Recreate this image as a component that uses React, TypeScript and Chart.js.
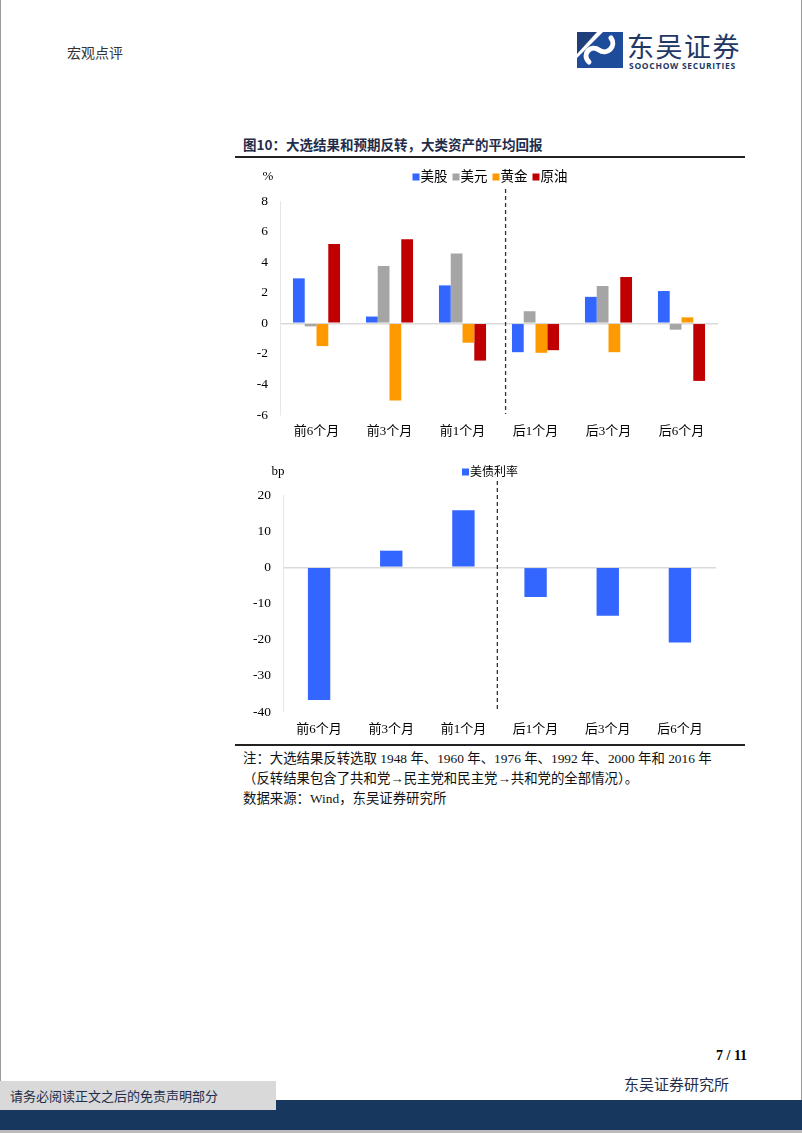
import React, { useEffect, useRef } from "react";
import { Chart, registerables } from "chart.js";

Chart.register(...registerables);

const categories = ["前6个月", "前3个月", "前1个月", "后1个月", "后3个月", "后6个月"];
const usStocks = [2.94, 0.44, 2.48, -1.89, 1.73, 2.11];
const usDollar = [-0.2, 3.75, 4.56, 0.79, 2.44, -0.42];
const gold = [-1.49, -5.05, -1.27, -1.93, -1.89, 0.39];
const crudeOil = [5.18, 5.5, -2.44, -1.76, 3.03, -3.77];
const treasuryYield = [-36.7, 4.6, 15.8, -8.2, -13.4, -20.8];
const assetSeriesNames = ["美股", "美元", "黄金", "原油"];
const yieldSeriesName = "美债利率";

const FONT = "'Liberation Serif', 'Noto Sans CJK SC', serif";
const BLUE = "#3366FF";
const GRAY = "#A5A5A5";
const ORANGE = "#FF9900";
const RED = "#C00000";

function makePlugin(unit: string, unitDx: number, lineOffsetFrac: number, lineExtend: number, legendY: number, legendFont: number) {
  return {
    id: "extras",
    afterDraw(chart: any) {
      const { ctx, chartArea, scales } = chart;
      const x = scales.x;
      const p2 = x.getPixelForValue(2);
      const p3 = x.getPixelForValue(3);
      const lx = (p2 + p3) / 2 + (p3 - p2) * lineOffsetFrac;
      ctx.save();
      ctx.strokeStyle = "#333333";
      ctx.lineWidth = 1.3;
      ctx.setLineDash([4, 3]);
      ctx.beginPath();
      ctx.moveTo(lx, chartArea.top - lineExtend);
      ctx.lineTo(lx, chartArea.bottom - 1);
      ctx.stroke();
      ctx.setLineDash([]);

      // legend
      ctx.font = legendFont + "px " + FONT;
      ctx.textBaseline = "middle";
      ctx.textAlign = "left";
      const box = 7;
      const gapBoxText = 1;
      const gapItems = 5;
      const items = chart.data.datasets.map((d: any) => ({
        label: d.label as string,
        color: d.backgroundColor as string,
        w: box + gapBoxText + ctx.measureText(d.label).width,
      }));
      const total = items.reduce((a: number, it: any) => a + it.w, 0) + gapItems * (items.length - 1);
      let cx = chart.width / 2 - total / 2;
      for (const it of items) {
        ctx.fillStyle = it.color;
        ctx.fillRect(cx, legendY - box / 2, box, box);
        ctx.fillStyle = "#000";
        ctx.fillText(it.label, cx + box + gapBoxText, legendY + 0.5);
        cx += it.w + gapItems;
      }

      ctx.fillStyle = "#000";
      ctx.font = "13px " + FONT;
      ctx.textAlign = "center";
      ctx.fillText(unit, chartArea.left + unitDx, legendY);
      ctx.restore();
    },
  };
}

function baseOptions(min: number, max: number, step: number, yWidth: number, xHeight: number, padTop: number, padRight: number, xPad: number) {
  return {
    responsive: false,
    animation: false as const,
    layout: { padding: { top: padTop, right: padRight, left: 0, bottom: 0 } },
    plugins: {
      legend: { display: false },
      tooltip: { enabled: false },
    },
    scales: {
      x: {
        grid: { display: false },
        border: { display: false },
        ticks: { font: { family: FONT, size: 13 }, color: "#000", padding: xPad, maxRotation: 0 },
        afterFit: (s: any) => { s.height = xHeight; },
      },
      y: {
        min,
        max,
        ticks: { stepSize: step, font: { family: FONT, size: 13.5 }, color: "#000", padding: 12 },
        grid: {
          drawTicks: false,
          color: (c: any) => (c.tick && c.tick.value === 0 ? "#D9D9D9" : "rgba(0,0,0,0)"),
          lineWidth: 1.5,
        },
        border: { display: true, color: "#E6E6E6" },
        afterFit: (s: any) => { s.width = yWidth; },
      },
    },
  };
}

function AssetChart() {
  const ref = useRef<HTMLCanvasElement>(null);
  useEffect(() => {
    const colors = [BLUE, GRAY, ORANGE, RED];
    const values = [usStocks, usDollar, gold, crudeOil];
    const chart = new Chart(ref.current!, {
      type: "bar",
      data: {
        labels: categories,
        datasets: assetSeriesNames.map((n, i) => ({
          label: n,
          data: values[i],
          backgroundColor: colors[i],
          borderWidth: 0,
          categoryPercentage: 0.645,
          barPercentage: 1,
        })),
      },
      options: baseOptions(-6, 8, 2, 50, 30, 41, 32, 1) as any,
      plugins: [makePlugin("%", -12, 0.09, 12, 17, 13.5)],
    });
    return () => chart.destroy();
  }, []);
  return <canvas ref={ref} width={520} height={285} style={{ position: "absolute", left: 230, top: 160 }} />;
}

function YieldChart() {
  const ref = useRef<HTMLCanvasElement>(null);
  useEffect(() => {
    const chart = new Chart(ref.current!, {
      type: "bar",
      data: {
        labels: categories,
        datasets: [{
          label: yieldSeriesName,
          data: treasuryYield,
          backgroundColor: BLUE,
          borderWidth: 0,
          categoryPercentage: 0.31,
          barPercentage: 1,
        }],
      },
      options: baseOptions(-40, 20, 10, 53, 28, 40, 34, 2) as any,
      plugins: [makePlugin("bp", -5, -0.03, 14, 17, 12)],
    });
    return () => chart.destroy();
  }, []);
  return <canvas ref={ref} width={520} height={285} style={{ position: "absolute", left: 230, top: 455 }} />;
}

function Logo() {
  return (
    <div style={{ position: "absolute", left: 577, top: 32, width: 170, height: 40 }}>
      <svg width="46" height="36" viewBox="0 0 46 36" style={{ position: "absolute", left: 0, top: 0 }}>
        <polygon points="0,0 20,0 0,22" fill="#1F3F7A" />
        <polygon points="0,36 0,26 26,0 46,0 46,36" fill="#1E4C9A" />
        <path d="M12 30 C4 22, 14 12, 22 18 C30 24, 40 14, 34 6" stroke="#ffffff" strokeWidth="5" fill="none" strokeLinecap="round" />
      </svg>
      <div style={{ position: "absolute", left: 50, top: 0, lineHeight: "28px", fontFamily: "'Noto Sans CJK SC', sans-serif", fontSize: 27, color: "#1F3864", letterSpacing: 1.5, whiteSpace: "nowrap" }}>东吴证券</div>
      <div style={{ position: "absolute", left: 52, top: 29, lineHeight: "9px", fontFamily: "'Open Sans', 'DejaVu Sans', sans-serif", fontWeight: 700, fontSize: 8.5, color: "#1F3864", whiteSpace: "nowrap", letterSpacing: 0.7 }}>SOOCHOW SECURITIES</div>
    </div>
  );
}

export default function App() {
  const serif = "'Liberation Serif', 'Noto Sans CJK SC', serif";
  return (
    <div style={{ position: "absolute", left: 0, top: 0, width: 802, height: 1133, background: "#fff", overflow: "hidden", fontFamily: serif }}>
      <div style={{ position: "absolute", left: 0, top: 0, width: 1, height: 1133, background: "#9a9a9a" }} />
      <div style={{ position: "absolute", right: 0, top: 0, width: 1, height: 1133, background: "#9a9a9a" }} />
      <div style={{ position: "absolute", left: 67, top: 42, fontSize: 14, color: "#333", fontFamily: "'Noto Sans CJK SC', serif" }}>宏观点评</div>
      <Logo />
      <div style={{ position: "absolute", left: 243, top: 134, fontSize: 13.5, fontWeight: 700, color: "#1F2D4A", fontFamily: "'Noto Sans CJK SC', serif", whiteSpace: "nowrap" }}>图10：大选结果和预期反转，大类资产的平均回报</div>
      <div style={{ position: "absolute", left: 235, top: 156, width: 510, height: 1.5, background: "#222" }} />
      <AssetChart />
      <YieldChart />
      <div style={{ position: "absolute", left: 235, top: 744, width: 510, height: 1.5, background: "#222" }} />
      <div style={{ position: "absolute", left: 243, top: 749, fontSize: 13.4, color: "#111", lineHeight: "20px", whiteSpace: "nowrap" }}>
        <div>注：大选结果反转选取 1948 年、1960 年、1976 年、1992 年、2000 年和 2016 年</div>
        <div>（反转结果包含了共和党→民主党和民主党→共和党的全部情况）。</div>
        <div>数据来源：Wind，东吴证券研究所</div>
      </div>
      <div style={{ position: "absolute", left: 716, top: 1048, fontSize: 14, fontWeight: 700, color: "#000", whiteSpace: "nowrap" }}>7 / 11</div>
      <div style={{ position: "absolute", left: 624, top: 1073, fontSize: 15, color: "#1F2D4A", fontFamily: "'Noto Sans CJK SC', serif", whiteSpace: "nowrap" }}>东吴证券研究所</div>
      <div style={{ position: "absolute", left: 0, top: 1100, width: 802, height: 30, background: "#17375E" }} />
      <div style={{ position: "absolute", left: 0, top: 1081, width: 276, height: 29, background: "#D9D9D9" }} />
      <div style={{ position: "absolute", left: 10, top: 1086, fontSize: 13, color: "#1F2D4A", fontFamily: "'Noto Sans CJK SC', serif", whiteSpace: "nowrap" }}>请务必阅读正文之后的免责声明部分</div>
      <div style={{ position: "absolute", left: 0, top: 1130, width: 802, height: 3, background: "#bbb" }} />
    </div>
  );
}
